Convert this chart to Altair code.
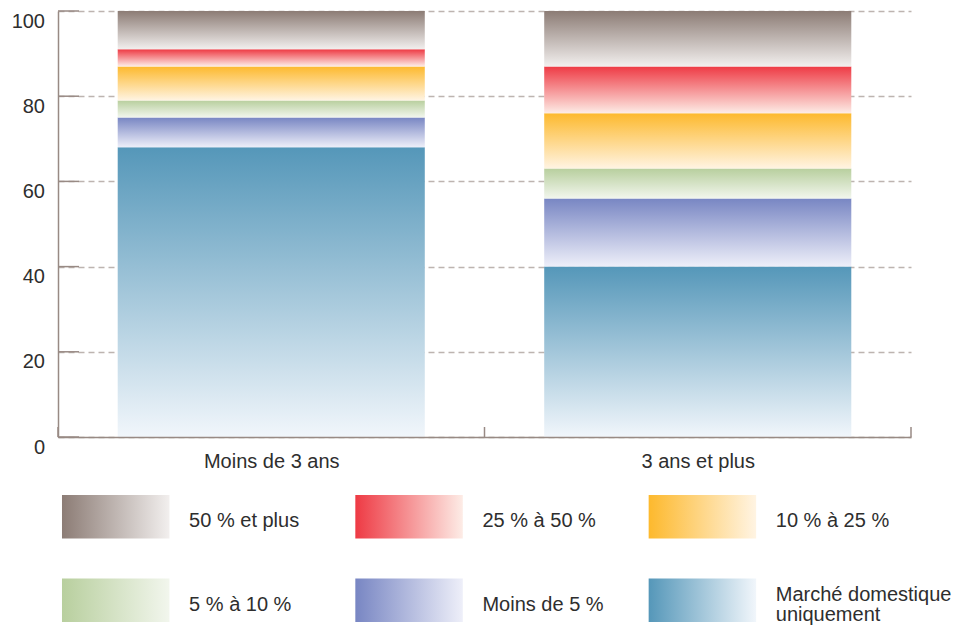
import json
import altair as alt
import pandas as pd

# ---------------- data ----------------
categories = ["Moins de 3 ans", "3 ans et plus"]
series = [
    "Marché domestique uniquement",
    "Moins de 5 %",
    "5 % à 10 %",
    "10 % à 25 %",
    "25 % à 50 %",
    "50 % et plus",
]
domestic = [68, 40]
lt5 = [7, 16]
p5_10 = [4, 7]
p10_25 = [8, 13]
p25_50 = [4, 11]
p50_plus = [9, 13]
y_ticks = [0, 20, 40, 60, 80, 100]

legend_order = [
    "50 % et plus",
    "25 % à 50 %",
    "10 % à 25 %",
    "5 % à 10 %",
    "Moins de 5 %",
    "Marché domestique uniquement",
]
legend_labels = [
    "50 % et plus",
    "25 % à 50 %",
    "10 % à 25 %",
    "5 % à 10 %",
    "Moins de 5 %",
    "Marché domestique\nuniquement",
]

# ---------------- styles ----------------
top_colors = {
    "Marché domestique uniquement": "#5597b9",
    "Moins de 5 %": "#7886c3",
    "5 % à 10 %": "#b8cf9e",
    "10 % à 25 %": "#fdb92d",
    "25 % à 50 %": "#ee3a44",
    "50 % et plus": "#8c7c75",
}
light_colors = {
    "Marché domestique uniquement": "#f1f6fb",
    "Moins de 5 %": "#eeeff9",
    "5 % à 10 %": "#f2f6ed",
    "10 % à 25 %": "#fff4e3",
    "25 % à 50 %": "#fdece6",
    "50 % et plus": "#f2efee",
}
FONT = "Liberation Sans"
TEXT = "#2e2e2e"
AXIS = "#988a84"
GRID = "#bdb4b0"
W, H = 853, 426
LW, LH = 880, 167

values = [domestic, lt5, p5_10, p10_25, p25_50, p50_plus]
rows = []
for si, (s, vals) in enumerate(zip(series, values)):
    for ci, (c, v) in enumerate(zip(categories, vals)):
        rows.append({"cat": c, "idx": ci, "series": s, "order": si, "value": v})
df = pd.DataFrame(rows)


def grad(c1, c2, horizontal=False):
    return alt.LinearGradient(
        gradient="linear",
        stops=[alt.GradientStop(color=c1, offset=0), alt.GradientStop(color=c2, offset=1)],
        x1=0, y1=0,
        x2=1 if horizontal else 0,
        y2=0 if horizontal else 1,
    )


x_scale = alt.Scale(domain=[0, len(categories)], nice=False, zero=False)
y_scale = alt.Scale(domain=[0, 100], nice=False)
label_expr = f"{json.dumps(categories)}[floor(datum.value)]"

x_axis = alt.Axis(
    values=[i + 0.5 for i in range(len(categories))],
    labelExpr=label_expr,
    title=None, grid=False, ticks=False, tickSize=0,
    domainColor=AXIS, domainWidth=1.5,
    labelPadding=30, labelBaseline="alphabetic",
    labelFontSize=20, labelFont=FONT, labelColor=TEXT, zindex=1,
)
y_axis = alt.Axis(
    values=y_ticks, title=None, grid=True, gridDash=[6, 4], gridColor=GRID, gridWidth=1.5,
    ticks=False, tickSize=0, domainColor=AXIS, domainWidth=1.5,
    labelPadding=13.5, labelBaseline="alphabetic", labelOffset=16,
    labelFontSize=20, labelFont=FONT, labelColor=TEXT, labelOverlap=False,
)

bar_layers = []
for i, s in enumerate(series):
    bar_layers.append(
        alt.Chart().transform_filter(alt.datum.series == s).mark_rect(
            fill=grad(top_colors[s], light_colors[s])
        ).encode(
            x=alt.X("x0:Q", scale=x_scale, axis=x_axis),
            x2="x1:Q",
            y=alt.Y("y0:Q", scale=y_scale, axis=y_axis),
            y2="y1:Q",
        )
    )

bars = alt.layer(*bar_layers, data=df).transform_stack(
    stack="value", groupby=["cat"], as_=["y0", "y1"],
    sort=[alt.SortField(field="order", order="ascending")],
).transform_calculate(
    x0="datum.idx + 0.14", x1="datum.idx + 0.86"
)

ytick_rules = alt.Chart(pd.DataFrame({"tick": y_ticks})).mark_rule(
    color=AXIS, strokeWidth=1.5
).encode(
    y=alt.Y("tick:Q", scale=y_scale, axis=y_axis),
    x=alt.value(0), x2=alt.value(21),
)
xtick_rules = alt.Chart(pd.DataFrame({"b": list(range(len(categories) + 1))})).mark_rule(
    color=AXIS, strokeWidth=1.5
).encode(
    x=alt.X("b:Q", scale=x_scale, axis=x_axis),
    y=alt.value(H), y2=alt.value(H - 10),
)

main = alt.layer(bars, ytick_rules, xtick_rules).properties(width=W, height=H)

# ---------------- legend ----------------
leg_df = pd.DataFrame({
    "series": legend_order,
    "label": legend_labels,
    "col": [i % 3 for i in range(len(legend_order))],
    "row": [i // 3 for i in range(len(legend_order))],
})
lx = alt.Scale(domain=[0, 3], nice=False, zero=False)
ly = alt.Scale(domain=[0, 2], nice=False, zero=False, reverse=True)

leg_layers = []
for s in legend_order:
    leg_layers.append(
        alt.Chart().transform_filter(alt.datum.series == s).mark_rect(
            fill=grad(top_colors[s], light_colors[s], horizontal=True)
        ).encode(
            x=alt.X("sx0:Q", scale=lx, axis=None), x2="sx1:Q",
            y=alt.Y("sy0:Q", scale=ly, axis=None), y2="sy1:Q",
        )
    )
single_text = alt.Chart().transform_filter(
    "indexof(datum.label, '\\n') < 0"
).mark_text(
    align="left", baseline="alphabetic", dy=10.5, fontSize=20, font=FONT, color=TEXT
).encode(
    x=alt.X("tx:Q", scale=lx, axis=None),
    y=alt.Y("ty:Q", scale=ly, axis=None),
    text="label:N",
)
multi_text = alt.Chart().transform_filter(
    "indexof(datum.label, '\\n') >= 0"
).mark_text(
    align="left", baseline="alphabetic", dy=0.5, fontSize=20, font=FONT, color=TEXT,
    lineBreak="\n", lineHeight=20.5,
).encode(
    x=alt.X("tx:Q", scale=lx, axis=None),
    y=alt.Y("ty:Q", scale=ly, axis=None),
    text="label:N",
)
legend = alt.layer(*leg_layers, single_text, multi_text, data=leg_df).transform_calculate(
    sx0="datum.col + 0.0136", sx1="datum.col + 0.380",
    sy0="datum.row + 0.24", sy1="datum.row + 0.76",
    tx="datum.col + 0.447", ty="datum.row + 0.5",
).properties(width=LW, height=LH)

chart = alt.vconcat(main, legend, spacing=4).properties(
    padding={"left": 3, "top": 2, "right": 4, "bottom": 2}
).configure_view(strokeWidth=0)

chart.save("out.html", embed_options={"renderer": "svg", "actions": False})
